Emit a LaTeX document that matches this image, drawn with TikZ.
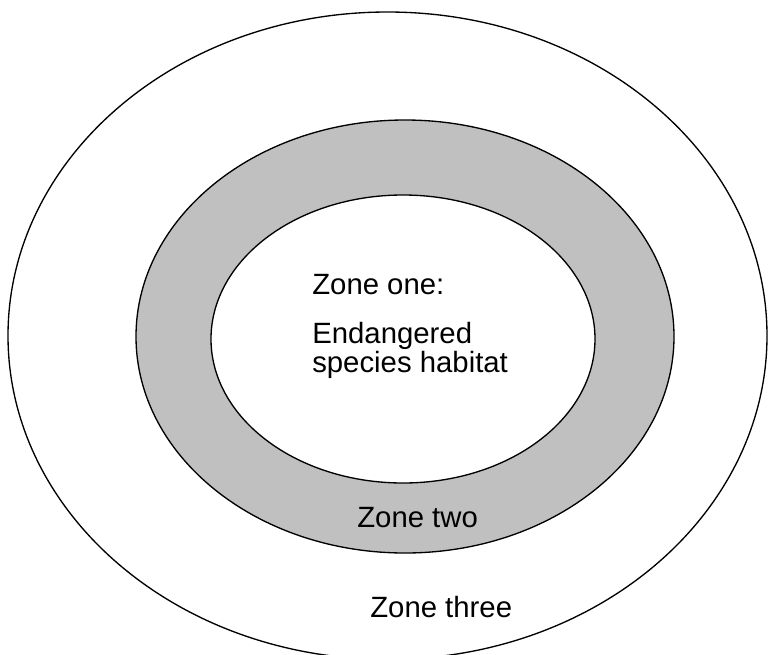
\documentclass[tikz,border=0pt]{standalone}
\usepackage{fontspec}
\setmainfont{Liberation Sans}
\definecolor{ringgray}{HTML}{C0C0C0}
\tikzset{
  zoneline/.style={draw=black,line width=1pt},
  zonelabel/.style={anchor=base west,inner sep=0pt,font=\fontsize{22}{18.75}\selectfont}
}
\begin{document}
\begin{tikzpicture}[x=0.75pt,y=-0.75pt]
  \useasboundingbox (0,0) rectangle (768,654);
  \clip (0,0) rectangle (768,654);
  % three zones
  \draw[zoneline,fill=white] (387.5,335.7) ellipse [x radius=379.5,y radius=323.7];
  \draw[zoneline,fill=ringgray] (405,336.5) ellipse [x radius=269,y radius=216.5];
  \draw[zoneline,fill=white] (403,339) ellipse [x radius=192,y radius=144];
  % labels
  \node[zonelabel] (one) at (312,294) {Zone one:};
  \node[zonelabel,align=left] (habitat) at (312,372) {Endangered\\species habitat};
  \node[zonelabel] (two) at (357,527) {Zone two};
  \node[zonelabel] (three) at (370,617) {Zone three};
\end{tikzpicture}
\end{document}
